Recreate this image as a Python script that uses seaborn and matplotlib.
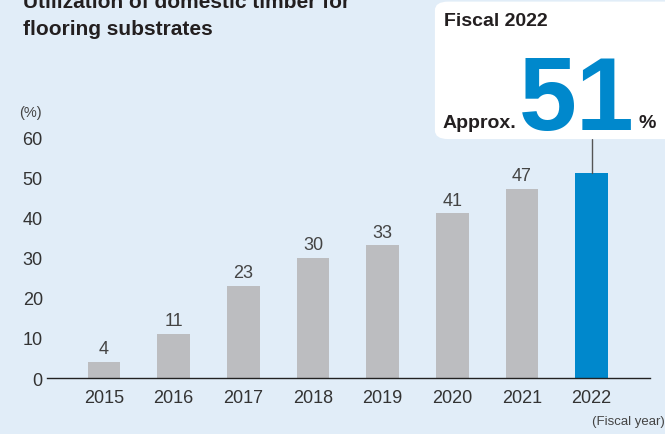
import matplotlib.pyplot as plt
import pandas as pd
import seaborn as sns
from matplotlib.patches import FancyBboxPatch

# Data
years = ["2015", "2016", "2017", "2018", "2019", "2020", "2021", "2022"]
usage = [4, 11, 23, 30, 33, 41, 47, 51]
yticks = [0, 10, 20, 30, 40, 50, 60]

bg = "#e1edf8"
grey_bar = "#bcbdc0"
blue_bar = "#0088cc"
text_dark = "#231f20"

sns.set_style("white")
plt.rcParams["font.family"] = ["Liberation Sans", "DejaVu Sans"]

df = pd.DataFrame({"year": years, "usage": usage})
palette = {y: (blue_bar if y == years[-1] else grey_bar) for y in years}

fig = plt.figure(figsize=(6.65, 4.35), dpi=100, facecolor=bg)
ax = fig.add_axes([0.0707, 0.1287, 0.9068, 0.554])
ax.set_facecolor(bg)

sns.barplot(data=df, x="year", y="usage", hue="year", palette=palette,
            width=0.47, legend=False, saturation=1, linewidth=0,
            edgecolor="none", ax=ax)

for i, v in enumerate(usage[:-1]):
    ax.text(i, v + 1.2, str(v), ha="center", va="bottom",
            fontsize=13, color="#444444")

ax.set_xlim(-0.82, 7.84)
ax.set_ylim(0, 60)
ax.set_yticks(yticks)
ax.set_xlabel("")
ax.set_ylabel("")
ax.tick_params(axis="both", length=0, labelsize=13, colors="#333333")
ax.tick_params(axis="y", pad=3)
ax.tick_params(axis="x", pad=8)
for s in ["top", "right", "left"]:
    ax.spines[s].set_visible(False)
ax.spines["bottom"].set_color("#222222")
ax.spines["bottom"].set_linewidth(1.0)

# axis unit labels
fig.text(0.046, 0.74, "(%)", fontsize=10.5, color="#444444", ha="center", va="center")
fig.text(0.999, 0.03, "(Fiscal year)", fontsize=9.5, color="#444444",
         ha="right", va="center")

# title (top line cut off by the frame)
fig.text(0.035, 0.9816, "Utilization of domestic timber for",
         fontsize=15, fontweight="bold", color=text_dark, ha="left", va="baseline")
fig.text(0.035, 0.9195, "flooring substrates",
         fontsize=15, fontweight="bold", color=text_dark, ha="left", va="baseline")

# connector from callout to the 2022 bar
ax.plot([7, 7], [usage[-1], 59.5], color="#555555", lw=1, clip_on=False)

# callout box
box = FancyBboxPatch((0.654, 0.678), 0.4, 0.316, transform=fig.transFigure,
                     boxstyle="round,pad=0,rounding_size=0.02",
                     facecolor="white", edgecolor="none", zorder=5)
fig.patches.append(box)
fig.text(0.668, 0.94, "Fiscal 2022", fontsize=14, fontweight="bold",
         color=text_dark, ha="left", va="baseline", zorder=6)
fig.text(0.666, 0.706, "Approx.", fontsize=14, fontweight="bold",
         color=text_dark, ha="left", va="baseline", zorder=6)
fig.text(0.867, 0.701, "51", fontsize=75, fontweight="bold", color=blue_bar,
         ha="center", va="baseline", zorder=6)
fig.text(0.973, 0.706, "%", fontsize=14, fontweight="bold",
         color=text_dark, ha="center", va="baseline", zorder=6)

plt.savefig("out.png", dpi=100, facecolor=bg)
